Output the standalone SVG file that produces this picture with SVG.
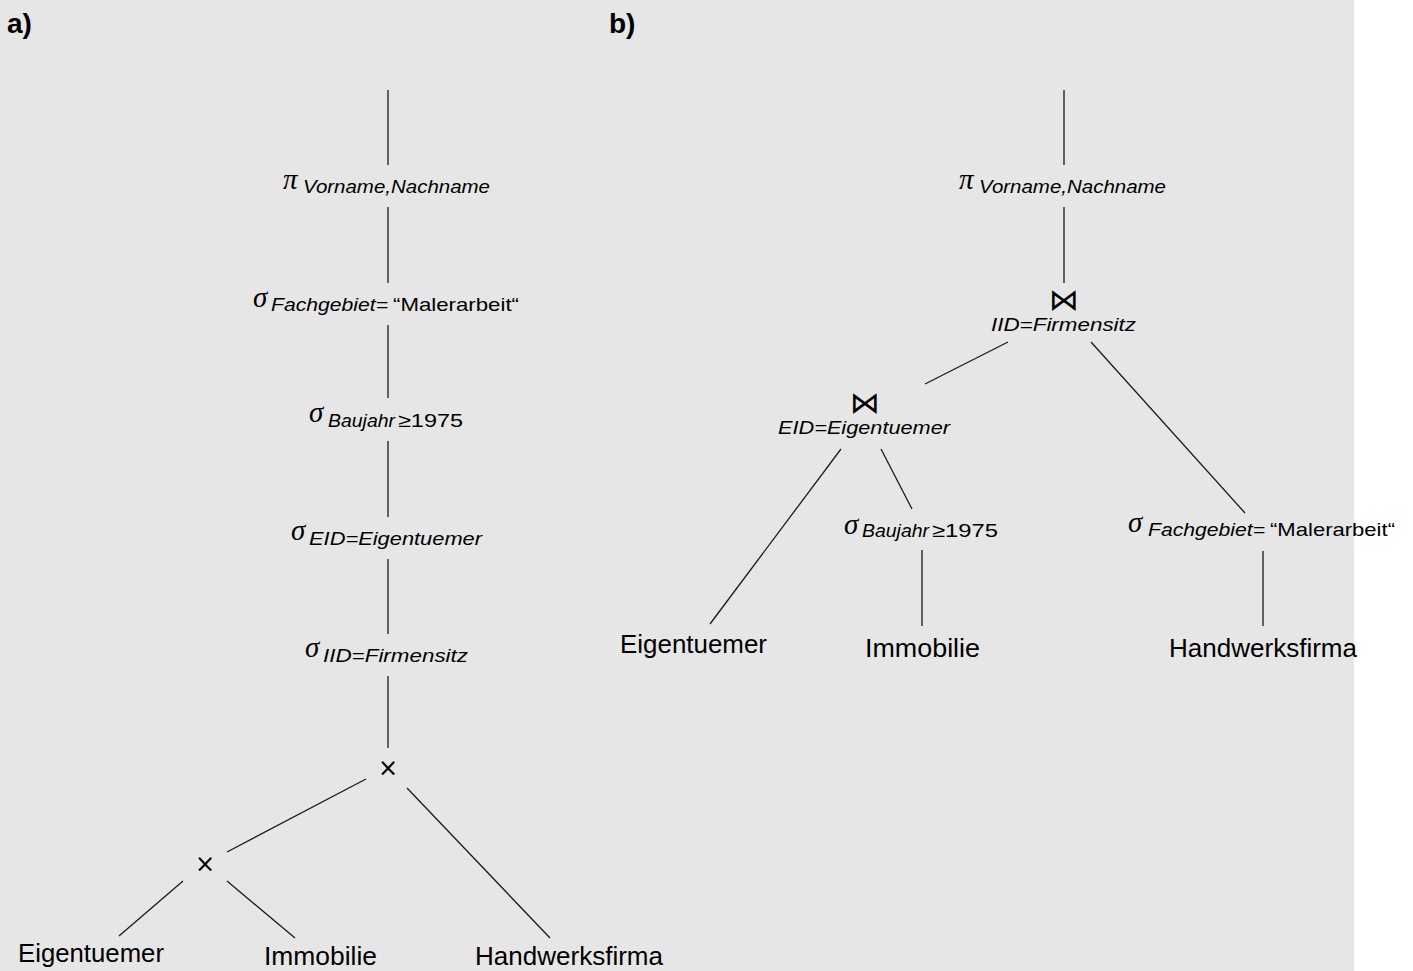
<svg xmlns="http://www.w3.org/2000/svg" width="1413" height="971" viewBox="0 0 1413 971">
<style>
.bg{fill:#e6e6e6}
.ln{stroke:#1a1a1a;stroke-width:1.3;fill:none}
.gr{font-family:"Liberation Serif","DejaVu Serif",serif;font-style:italic;font-size:29px;fill:#000}
.sub{font-family:"Liberation Sans","DejaVu Sans",sans-serif;font-style:italic;font-size:19px;fill:#000}
.up{font-family:"Liberation Sans","DejaVu Sans",sans-serif;font-size:19px;fill:#000}
.leaf{font-family:"Liberation Sans","DejaVu Sans",sans-serif;font-size:26px;fill:#000}
.op{font-family:"DejaVu Sans","Liberation Sans",sans-serif;font-size:24px;fill:#000;text-anchor:middle}
.jn{font-family:"DejaVu Sans","Liberation Sans",sans-serif;font-size:30px;fill:#000;text-anchor:middle}
.hd{font-family:"Liberation Sans","DejaVu Sans",sans-serif;font-weight:bold;font-size:28px;fill:#000}
</style>
<rect class="bg" x="0" y="0" width="1354" height="971"/>
<text class="hd" x="7" y="33">a)</text>
<text class="hd" x="609" y="33">b)</text>
<g id="connectors">
<line class="ln" x1="388" y1="90" x2="388" y2="165"/>
<line class="ln" x1="388" y1="207" x2="388" y2="283"/>
<line class="ln" x1="388" y1="325" x2="388" y2="398"/>
<line class="ln" x1="388" y1="441" x2="388" y2="517"/>
<line class="ln" x1="388" y1="559" x2="388" y2="634"/>
<line class="ln" x1="388" y1="676" x2="388" y2="748"/>
<line class="ln" x1="366" y1="779" x2="227" y2="852"/>
<line class="ln" x1="407" y1="788" x2="550" y2="938"/>
<line class="ln" x1="183" y1="881" x2="119" y2="936"/>
<line class="ln" x1="227" y1="881" x2="295" y2="938"/>
<line class="ln" x1="1064" y1="90" x2="1064" y2="165"/>
<line class="ln" x1="1064" y1="207" x2="1064" y2="283"/>
<line class="ln" x1="1008" y1="342" x2="925" y2="384"/>
<line class="ln" x1="1091" y1="342" x2="1245" y2="513"/>
<line class="ln" x1="841" y1="449" x2="710" y2="624"/>
<line class="ln" x1="881" y1="449" x2="912" y2="509"/>
<line class="ln" x1="922" y1="550" x2="922" y2="626"/>
<line class="ln" x1="1263" y1="551" x2="1263" y2="626"/>
</g>
<g id="a-proj">
<text class="gr" x="283" y="189">π</text>
<text class="sub" x="303" y="193" textLength="187" lengthAdjust="spacingAndGlyphs">Vorname,Nachname</text>
</g>
<g id="a-sel-fach">
<text class="gr" x="253" y="307">σ</text>
<text class="sub" x="271" y="311" textLength="117" lengthAdjust="spacingAndGlyphs">Fachgebiet=</text>
<text class="up" x="393" y="311" textLength="126" lengthAdjust="spacingAndGlyphs">“Malerarbeit“</text>
</g>
<g id="a-sel-bau">
<text class="gr" x="309" y="422">σ</text>
<text class="sub" x="328" y="427" textLength="67" lengthAdjust="spacingAndGlyphs">Baujahr</text>
<text class="up" x="398" y="427" textLength="65" lengthAdjust="spacingAndGlyphs">≥1975</text>
</g>
<g id="a-sel-eid">
<text class="gr" x="291" y="540">σ</text>
<text class="sub" x="309" y="545" textLength="173" lengthAdjust="spacingAndGlyphs">EID=Eigentuemer</text>
</g>
<g id="a-sel-iid">
<text class="gr" x="305" y="657">σ</text>
<text class="sub" x="323" y="662" textLength="145" lengthAdjust="spacingAndGlyphs">IID=Firmensitz</text>
</g>
<g id="a-cross1"><text class="op" x="388" y="776">×</text></g>
<g id="a-cross2"><text class="op" x="205" y="872">×</text></g>
<g id="a-eigentuemer"><text class="leaf" x="18" y="962" textLength="146" lengthAdjust="spacingAndGlyphs">Eigentuemer</text></g>
<g id="a-immobilie"><text class="leaf" x="264" y="965" textLength="113" lengthAdjust="spacingAndGlyphs">Immobilie</text></g>
<g id="a-handwerksfirma"><text class="leaf" x="475" y="965" textLength="188" lengthAdjust="spacingAndGlyphs">Handwerksfirma</text></g>
<g id="b-proj">
<text class="gr" x="959" y="189">π</text>
<text class="sub" x="979" y="193" textLength="187" lengthAdjust="spacingAndGlyphs">Vorname,Nachname</text>
</g>
<g id="b-join1">
<text class="jn" x="1064" y="310">⋈</text>
<text class="sub" x="991" y="331" textLength="145" lengthAdjust="spacingAndGlyphs">IID=Firmensitz</text>
</g>
<g id="b-join2">
<text class="jn" x="865" y="413">⋈</text>
<text class="sub" x="778" y="434" textLength="172" lengthAdjust="spacingAndGlyphs">EID=Eigentuemer</text>
</g>
<g id="b-sel-bau">
<text class="gr" x="844" y="534">σ</text>
<text class="sub" x="862" y="537" textLength="67" lengthAdjust="spacingAndGlyphs">Baujahr</text>
<text class="up" x="932" y="537" textLength="66" lengthAdjust="spacingAndGlyphs">≥1975</text>
</g>
<g id="b-sel-fach">
<text class="gr" x="1128" y="532">σ</text>
<text class="sub" x="1148" y="536" textLength="117" lengthAdjust="spacingAndGlyphs">Fachgebiet=</text>
<text class="up" x="1270" y="536" textLength="125" lengthAdjust="spacingAndGlyphs">“Malerarbeit“</text>
</g>
<g id="b-eigentuemer"><text class="leaf" x="620" y="653" textLength="147" lengthAdjust="spacingAndGlyphs">Eigentuemer</text></g>
<g id="b-immobilie"><text class="leaf" x="865" y="657" textLength="115" lengthAdjust="spacingAndGlyphs">Immobilie</text></g>
<g id="b-handwerksfirma"><text class="leaf" x="1169" y="657" textLength="188" lengthAdjust="spacingAndGlyphs">Handwerksfirma</text></g>
</svg>
